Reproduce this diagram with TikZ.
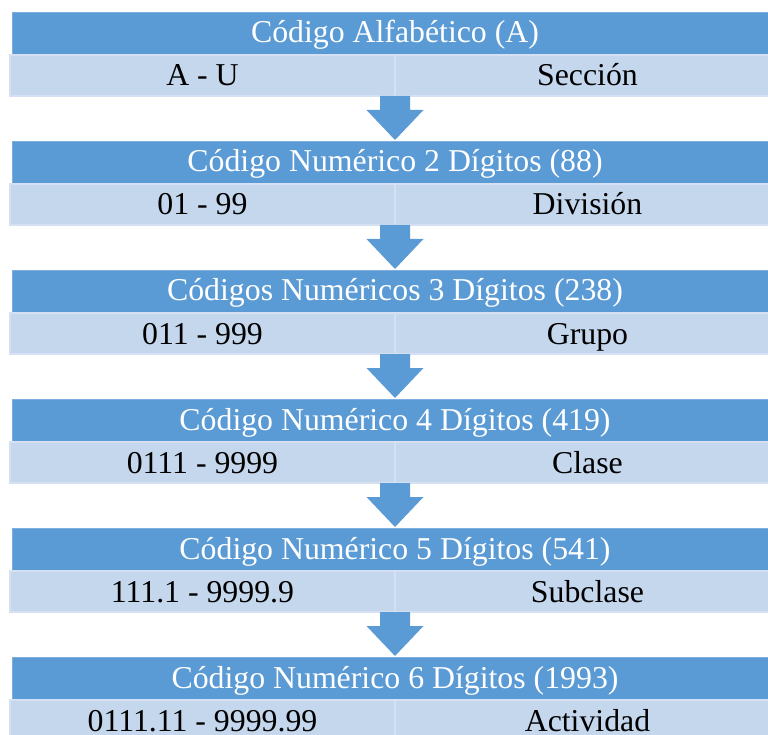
\documentclass[tikz,border=0pt]{standalone}
\usepackage{fontspec}
\setmainfont{Liberation Serif}
\definecolor{hdr-blue}{HTML}{5B9BD5}
\definecolor{hdr-line}{HTML}{7DB0E0}
\definecolor{pale-blue}{HTML}{C5D7ED}
\definecolor{pale-line}{HTML}{D5E1F2}
\usetikzlibrary{positioning}
\tikzset{head/.style = {draw=hdr-line, line width=.8pt, fill=hdr-blue, text=white, minimum width=766pt, minimum height=43pt, text height=24pt, text depth=5pt, inner sep=0pt, outer sep=0pt, align=center}}
\tikzset{cell/.style = {draw=pale-line, line width=1.5pt, fill=pale-blue, text=black, minimum width=385pt, minimum height=41pt, text height=25pt, text depth=4pt, inner sep=0pt, outer sep=0pt, align=center}}
\tikzset{blk/.style = {fill=hdr-blue}}

\begin{document}
\begin{tikzpicture}[x=1pt, y=1pt,
  node distance = 45pt,
  font=\fontsize{31.8}{36}\selectfont
]
\useasboundingbox (0,0) rectangle (768,-735);
\clip (0,0) rectangle (768,-735);

\node[head] (h1) at (395,-33.5) {Código Alfabético (A)};
\node[cell, anchor=north east] (l1) at (h1.south) {A - U};
\node[cell, anchor=north west] (r1) at (h1.south) {Sección};

\node[head, below=of l1.south east] (h2) {Código Numérico 2 Dígitos (88)};
\node[cell, anchor=north east] (l2) at (h2.south) {01 - 99};
\node[cell, anchor=north west] (r2) at (h2.south) {División};

\node[head, below=of l2.south east] (h3) {Códigos Numéricos 3 Dígitos (238)};
\node[cell, anchor=north east] (l3) at (h3.south) {011 - 999};
\node[cell, anchor=north west] (r3) at (h3.south) {Grupo};

\node[head, below=of l3.south east] (h4) {Código Numérico 4 Dígitos (419)};
\node[cell, anchor=north east] (l4) at (h4.south) {0111 - 9999};
\node[cell, anchor=north west] (r4) at (h4.south) {Clase};

\node[head, below=of l4.south east] (h5) {Código Numérico 5 Dígitos (541)};
\node[cell, anchor=north east] (l5) at (h5.south) {111.1 - 9999.9};
\node[cell, anchor=north west] (r5) at (h5.south) {Subclase};

\node[head, below=of l5.south east] (h6) {Código Numérico 6 Dígitos (1993)};
\node[cell, anchor=north east] (l6) at (h6.south) {0111.11 - 9999.99};
\node[cell, anchor=north west] (r6) at (h6.south) {Actividad};

% block arrows between the levels
\foreach \i/\j in {1/2, 2/3, 3/4, 4/5, 5/6}
  \fill[blk] ([xshift=-15pt]l\i.south east) -- ++(0,-14) -- ++(-13.5,0)
    -- ([yshift=1pt]h\j.north) -- ++(28.5,30) -- ++(-13.5,0) -- ++(0,14) -- cycle;

\end{tikzpicture}
\end{document}
